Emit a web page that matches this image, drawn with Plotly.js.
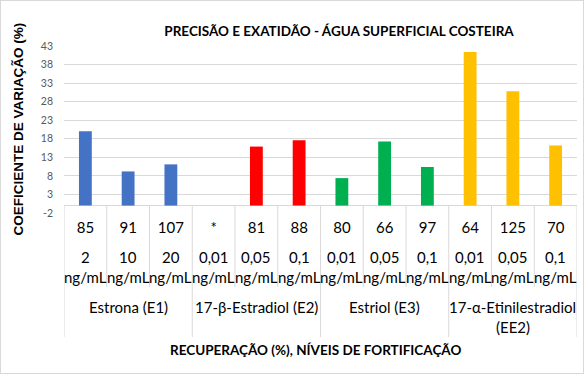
<!DOCTYPE html>
<html>
<head>
<meta charset="utf-8">
<script src="https://cdn.plot.ly/plotly-3.0.1.min.js"></script>
<style>
  html, body { margin: 0; padding: 0; background: #fff; }
  #wrap { position: relative; width: 584px; height: 374px; }
  #chart { width: 584px; height: 374px; }
  #frame { position: absolute; left: 0; top: 0; width: 582px; height: 372px; border: 1px solid #d9d9d9; pointer-events: none; }
</style>
</head>
<body>
<div id="wrap"><div id="chart"></div><div id="frame"></div></div>
<script>
// ---- data ----
const recovery = ['85', '91', '107', '*', '81', '88', '80', '66', '97', '64', '125', '70'];
const levels = ['2', '10', '20', '0,01', '0,05', '0,1', '0,01', '0,05', '0,1', '0,01', '0,05', '0,1'];
const levelUnit = 'ng/mL';
const compoundLines = [['Estrona (E1)'], ['17-β-Estradiol (E2)'], ['Estriol (E3)'], ['17-α-Etinilestradiol', '(EE2)']];
const groupSize = [3, 3, 3, 3];
const cv = [20.0, 9.2, 11.1, null, 15.9, 17.6, 7.4, 17.3, 10.4, 41.4, 30.8, 16.2];
const groupColors = ['#4472C4', '#FF0000', '#00B050', '#FFC000'];
const yTicks = [-2, 3, 8, 13, 18, 23, 28, 33, 38, 43];

// ---- build ----
const FONT = 'Lato, "Open Sans", sans-serif';
const colors = [];
const groupStart = [];
let idx = 0;
groupSize.forEach((n, g) => { groupStart.push(idx); for (let k = 0; k < n; k++) { colors.push(groupColors[g]); idx++; } });

const trace = {
  type: 'bar',
  x: recovery,
  y: cv,
  width: 0.3,
  marker: { color: colors },
  hoverinfo: 'x+y'
};

const annotations = [];
const shapes = [];
const rowFont = { family: FONT, size: 15, color: '#000' };

recovery.forEach((r, i) => {
  annotations.push({ xref: 'x', yref: 'paper', x: i, y: 0, yshift: -44, text: levels[i], showarrow: false, font: rowFont, xanchor: 'center', yanchor: 'middle' });
  annotations.push({ xref: 'x', yref: 'paper', x: i, y: 0, yshift: -64, text: levelUnit, showarrow: false, font: rowFont, xanchor: 'center', yanchor: 'middle' });
});
compoundLines.forEach((lines, g) => {
  const cx = groupStart[g] + (groupSize[g] - 1) / 2;
  lines.forEach((t, j) => {
    annotations.push({ xref: 'x', yref: 'paper', x: cx, y: 0, yshift: -94 - 20 * j, text: t, showarrow: false, font: rowFont, xanchor: 'center', yanchor: 'middle' });
  });
});
// axis titles
annotations.push({ xref: 'paper', yref: 'paper', x: 0, xshift: -46, y: 0.5, text: '<b>COEFICIENTE DE VARIAÇÃO (%)</b>', textangle: -90, showarrow: false,
  font: { family: '"Liberation Sans", Arial, sans-serif', size: 13.5, color: '#000' }, xanchor: 'center', yanchor: 'middle' });
annotations.push({ xref: 'paper', yref: 'paper', x: 0, xshift: 251, y: 0, yshift: -137, text: '<b>RECUPERAÇÃO (%), NÍVEIS DE FORTIFICAÇÃO</b>', showarrow: false,
  font: { family: FONT, size: 13.5, color: '#000' }, xanchor: 'center', yanchor: 'middle' });

// cover for bottom gridline
shapes.push({ type: 'line', xref: 'paper', yref: 'y', x0: 0, x1: 1, y0: -2, y1: -2, line: { color: '#ffffff', width: 2 }, layer: 'above' });
// table separators
const nCat = recovery.length;
for (let i = 0; i <= nCat; i++) {
  const isGroup = groupStart.includes(i) || i === nCat;
  shapes.push({ type: 'line', xref: 'x', yref: 'paper', ysizemode: 'pixel', yanchor: 0,
    x0: i - 0.5, x1: i - 0.5, y0: 8, y1: isGroup ? -124 : -74,
    line: { color: '#d9d9d9', width: 1 }, layer: 'above' });
}

const layout = {
  width: 584, height: 374,
  margin: { l: 64, r: 7, t: 46, b: 161 },
  paper_bgcolor: '#ffffff', plot_bgcolor: '#ffffff',
  showlegend: false,
  title: { text: '<b>PRECISÃO E EXATIDÃO - ÁGUA SUPERFICIAL COSTEIRA</b>', font: { family: FONT, size: 13.5, color: '#000' },
    x: 339 / 584, xanchor: 'center', xref: 'container', y: 1 - 31 / 374, yanchor: 'middle', yref: 'container' },
  xaxis: { type: 'category', range: [-0.5, 11.5], showgrid: false, zeroline: false, showline: false, ticks: '',
    tickfont: { family: FONT, size: 15, color: '#000' }, ticklabelstandoff: 4, fixedrange: true },
  yaxis: { range: [-2, 43], tickvals: yTicks, ticktext: yTicks.map(String), showgrid: true, gridcolor: '#d9d9d9', gridwidth: 1,
    zeroline: true, zerolinecolor: '#d9d9d9', zerolinewidth: 1, showline: false, ticks: '',
    tickfont: { family: FONT, size: 10.5, color: '#595959' }, ticklabelstandoff: 10, fixedrange: true },
  annotations: annotations,
  shapes: shapes
};

Plotly.newPlot('chart', [trace], layout, { displayModeBar: false, staticPlot: true });
</script>
</body>
</html>
